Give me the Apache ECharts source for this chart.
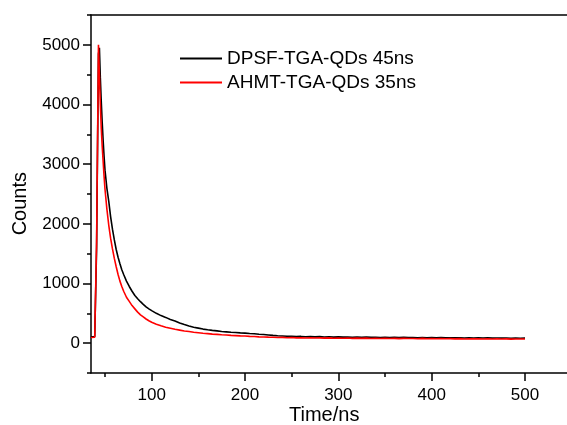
<!DOCTYPE html>
<html>
<head>
<meta charset="utf-8">
<script src="https://cdn.jsdelivr.net/npm/echarts@6/dist/echarts.min.js"></script>
<style>html,body{margin:0;padding:0;background:#fff;}#c{width:567px;height:425px;}</style>
</head>
<body>
<div id="c"></div>
<script>
const times = [35,37,39,40,41,42,43,44,45,46,47,48,49,50,52,54,56,58,60,62,64,66,68,70,73,76,79,82,85,88,91,94,97,
100,105,110,115,120,125,130,135,140,145,150,155,160,165,170,175,180,185,190,195,200,205,210,215,220,225,230,235,240,245,250,
255,260,265,270,275,280,285,290,295,300,305,310,315,320,325,330,335,340,345,350,355,360,365,370,375,380,385,390,395,400,
405,410,415,420,425,430,435,440,445,450,455,460,465,470,475,480,485,490,495,500];

const dpsf = [105,98,110,140,1600,3250,4850,4950,4450,4050,3700,3400,3130,2900,2600,2380,2120,1910,1730,1570,1440,1330,1230,1150,1040,950,870,800,745,695,650,608,575,
545,500,462,432,398,372,338,312,288,268,252,236,224,214,206,196,190,183,178,172,168,162,157,150,145,138,130,124,121,117,116,
111,113,108,110,106,109,104,107,102,105,101,104,99,103,98,101,97,100,96,99,95,98,94,97,93,96,92,95,91,94,
90,93,89,92,88,91,87,90,86,89,86,88,85,87,84,86,83,85,83,84];

const ahmt = [95,90,100,130,1700,3350,5000,4500,4000,3600,3300,3050,2800,2580,2250,1980,1760,1580,1420,1280,1150,1040,950,870,770,700,630,575,520,475,440,405,375,
350,318,292,268,250,232,218,204,195,183,175,166,160,151,148,140,136,130,127,122,119,114,112,106,104,101,99,95,97,92,94,
89,92,87,90,86,89,84,88,83,86,82,87,81,85,80,84,79,83,78,82,79,81,76,80,77,79,75,80,74,78,
75,77,73,76,72,76,71,75,72,74,70,74,71,73,69,72,68,71,69,70];

const seriesNames = ['DPSF-TGA-QDs 45ns', 'AHMT-TGA-QDs 35ns'];
const xMajor = [100,200,300,400,500];
const xMinor = [50,150,250,350,450];
const yMajor = [0,1000,2000,3000,4000,5000];
const yMinor = [-500,500,1500,2500,3500,4500,5500];

const FONT = "'Liberation Sans', Arial, sans-serif";
const chart = echarts.init(document.getElementById('c'));
const pair = (ys) => times.map((t, i) => [t, ys[i]]);
const axisLine = {show: true, onZero: false, lineStyle: {color: '#000', width: 1.5}};
const noLine = {show: false, onZero: false};
const gridRect = {left: 91, right: 0, top: 15, bottom: 52};
const tickStyle = {color: '#000', width: 1.5};

chart.setOption({
  animation: false,
  backgroundColor: '#fff',
  grid: [gridRect, Object.assign({}, gridRect)],
  legend: {
    orient: 'vertical', left: 175, top: 44, itemWidth: 42, itemHeight: 2, itemGap: 5,
    icon: 'rect',
    textStyle: {fontFamily: FONT, fontSize: 19, color: '#000'},
    data: seriesNames
  },
  xAxis: [
    {gridIndex: 0, type: 'value', min: 35, max: 545, position: 'bottom', axisLine: axisLine,
     splitLine: {show: false},
     axisTick: {show: true, inside: false, length: 8, customValues: xMajor, lineStyle: tickStyle},
     axisLabel: {customValues: xMajor, fontFamily: FONT, fontSize: 17, color: '#000', margin: 14}},
    {gridIndex: 0, type: 'value', min: 35, max: 545, position: 'top', axisLine: axisLine,
     splitLine: {show: false}, axisTick: {show: false}, axisLabel: {show: false}},
    {gridIndex: 1, type: 'value', min: 35, max: 545, position: 'bottom', axisLine: noLine,
     splitLine: {show: false},
     axisTick: {show: true, inside: false, length: 4, customValues: xMinor, lineStyle: tickStyle},
     axisLabel: {show: false}}
  ],
  yAxis: [
    {gridIndex: 0, type: 'value', min: -500, max: 5500, position: 'left', axisLine: axisLine,
     splitLine: {show: false},
     axisTick: {show: true, inside: false, length: 8, customValues: yMajor, lineStyle: tickStyle},
     axisLabel: {customValues: yMajor, formatter: (v) => String(v), fontFamily: FONT, fontSize: 17, color: '#000', margin: 11}},
    {gridIndex: 1, type: 'value', min: -500, max: 5500, position: 'left', axisLine: noLine,
     splitLine: {show: false},
     axisTick: {show: true, inside: false, length: 4, customValues: yMinor, lineStyle: tickStyle},
     axisLabel: {show: false}}
  ],
  series: [
    {name: seriesNames[0], type: 'line', data: pair(dpsf), symbol: 'none', xAxisIndex: 0, yAxisIndex: 0,
     lineStyle: {color: '#000', width: 1.6}, itemStyle: {color: '#000'}, z: 2},
    {name: seriesNames[1], type: 'line', data: pair(ahmt), symbol: 'none', xAxisIndex: 0, yAxisIndex: 0,
     lineStyle: {color: '#ff0000', width: 1.6}, itemStyle: {color: '#ff0000'}, z: 3}
  ],
  graphic: [
    {type: 'text', left: 10, top: 172, rotation: Math.PI / 2,
     style: {text: 'Counts', fontFamily: FONT, fontSize: 20, fill: '#000'}},
    {type: 'text', left: 289, top: 405,
     style: {text: 'Time/ns', fontFamily: FONT, fontSize: 20, fill: '#000'}}
  ]
});
</script>
</body>
</html>
